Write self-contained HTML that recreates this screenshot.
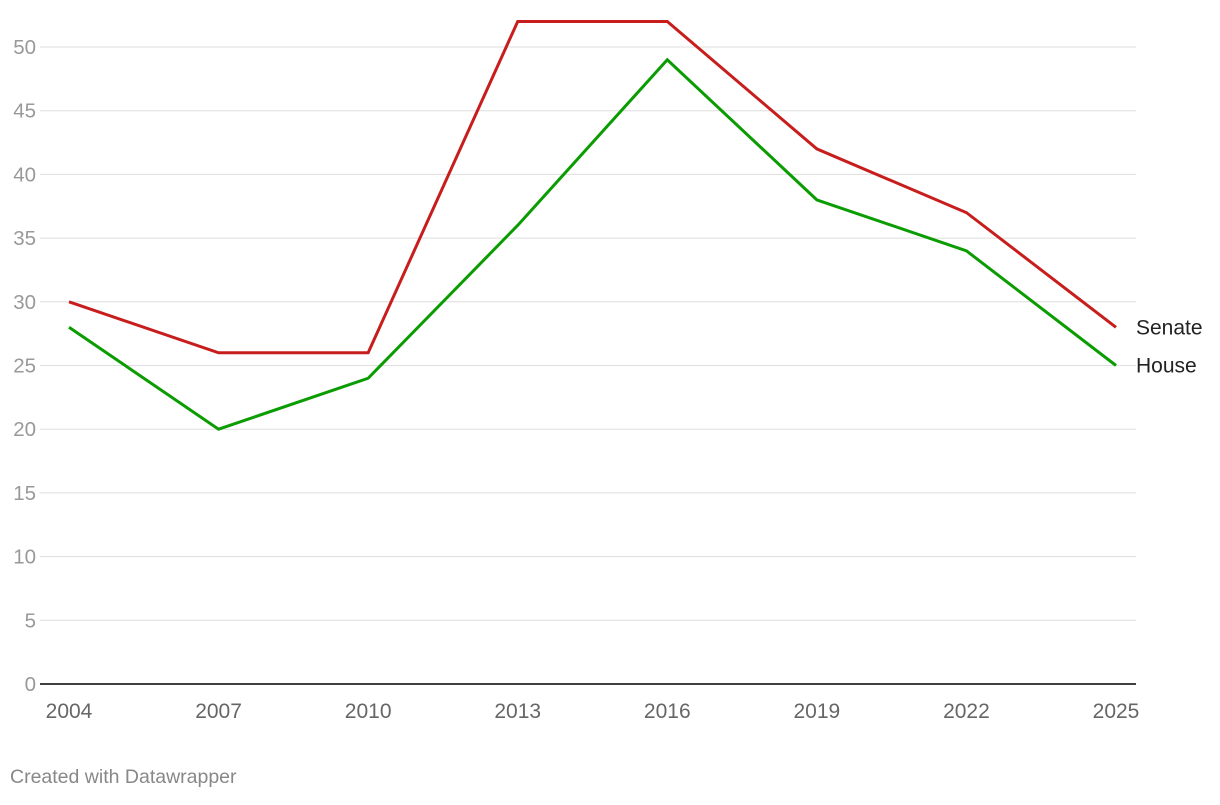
<!DOCTYPE html>
<html><head><meta charset="utf-8"><style>
body{margin:0;background:#fff;width:1220px;height:800px;overflow:hidden;font-family:"Liberation Sans",sans-serif;}
</style></head><body>
<svg id="chart" width="1220" height="800" xmlns="http://www.w3.org/2000/svg"></svg>
<script>
const years = ["2004","2007","2010","2013","2016","2019","2022","2025"];
const senate = [30,26,26,52,52,42,37,28];
const house = [28,20,24,36,49,38,34,25];
const yTicks = [0,5,10,15,20,25,30,35,40,45,50];
const credit = "Created with Datawrapper";

const svg = document.getElementById('chart');
const NS = "http://www.w3.org/2000/svg";
const x0=69,x1=1116,yBase=684,yTop=47;
function xs(i){return x0+(x1-x0)*i/(years.length-1);}
function ys(v){return yBase-(yBase-yTop)*v/50;}
function mk(tag,attrs){const e=document.createElementNS(NS,tag);for(const k in attrs)e.setAttribute(k,attrs[k]);svg.appendChild(e);return e;}

yTicks.forEach(t=>{
  if(t>0){
    const g=mk('line',{x1:40,x2:1136,y1:ys(t),y2:ys(t),stroke:'#dedede','stroke-width':1});
    
    
  }
  const l=mk('text',{x:36,y:ys(t)+7,'text-anchor':'end','font-size':20.5,fill:'#999'});
  l.textContent=t;
  
  
});
const base=mk('line',{x1:40,x2:1136,y1:yBase,y2:yBase,stroke:'#000','stroke-width':1.5});


years.forEach((y,i)=>{
  const t=mk('text',{x:xs(i),y:718,'text-anchor':'middle','font-size':21,fill:'#666'});
  t.textContent=y;
  
  
});
function series(vals,color,name,label){
  const p=mk('polyline',{points:vals.map((v,i)=>xs(i)+','+ys(v)).join(' '),fill:'none',stroke:color,'stroke-width':3,'stroke-linejoin':'miter'});
  
  
  const t=mk('text',{x:1136,y:ys(vals[vals.length-1])+7,'font-size':21,fill:'#222'});
  t.textContent=label;
  
  
}
series(senate,'#c71e1d','senate','Senate');
series(house,'#0a9c00','house','House');
const c=mk('text',{x:10,y:783,'font-size':19.5,fill:'#888'});
c.textContent=credit;


</script>
</body></html>
